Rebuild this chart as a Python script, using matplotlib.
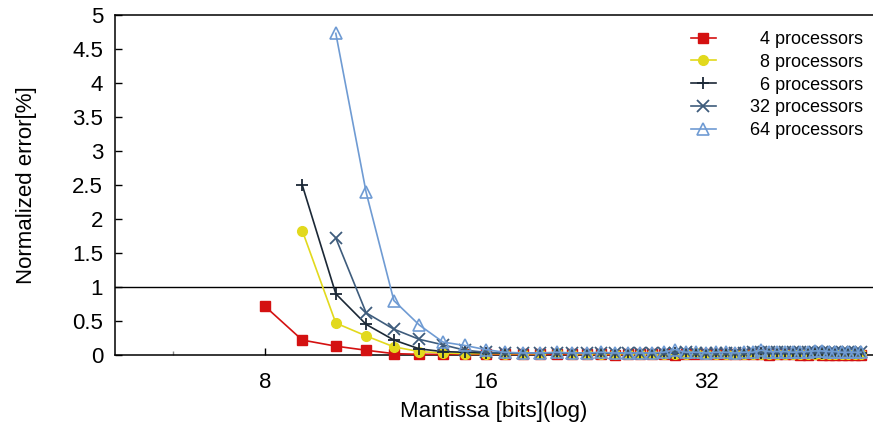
import matplotlib
matplotlib.use('Agg')
import matplotlib.pyplot as plt
import numpy as np

plt.rcParams['font.family'] = ['Liberation Sans', 'DejaVu Sans']

# mantissa width in bits
bits = np.arange(8, 53)

# normalized error [%] per mantissa width, nan where the run was not made
err_4 = [0.72, 0.22, 0.13, 0.07, 0.02, 0.01, 0.01, 0.01, 0.01,
         0.01, 0.01, 0.01, 0.01, 0.01, 0.01, 0.01, 0.00, 0.01, 0.01,
         0.01, 0.01, 0.00, 0.01, 0.01, 0.01, 0.01, 0.01, 0.01, 0.01,
         0.01, 0.01, 0.00, 0.01, 0.01, 0.01, 0.00, 0.00, 0.01, 0.00,
         0.00, 0.00, 0.00, 0.00, 0.00, 0.00]
err_8 = [np.nan, 1.83, 0.47, 0.28, 0.12, 0.05, 0.03, 0.02, 0.02,
         0.02, 0.02, 0.02, 0.03, 0.02, 0.02, 0.02, 0.02, 0.02, 0.02,
         0.02, 0.02, 0.02, 0.02, 0.03, 0.02, 0.02, 0.02, 0.02, 0.02,
         0.02, 0.02, 0.02, 0.02, 0.02, 0.02, 0.02, 0.02, 0.02, 0.02,
         0.02, 0.02, 0.02, 0.02, 0.02, 0.02]
err_16 = [np.nan, 2.50, 0.90, 0.45, 0.22, 0.09, 0.05, 0.04, 0.03,
          0.03, 0.03, 0.03, 0.03, 0.03, 0.03, 0.03, 0.03, 0.03, 0.03,
          0.03, 0.03, 0.03, 0.03, 0.03, 0.03, 0.03, 0.03, 0.03, 0.03,
          0.03, 0.03, 0.03, 0.03, 0.03, 0.03, 0.03, 0.03, 0.03, 0.03,
          0.03, 0.03, 0.03, 0.03, 0.03, 0.03]
err_32 = [np.nan, np.nan, 1.72, 0.62, 0.38, 0.23, 0.15, 0.07, 0.04,
          0.03, 0.03, 0.03, 0.03, 0.03, 0.03, 0.03, 0.03, 0.03, 0.03,
          0.03, 0.03, 0.03, 0.04, 0.03, 0.03, 0.03, 0.03, 0.03, 0.03,
          0.04, 0.04, 0.04, 0.04, 0.04, 0.04, 0.04, 0.04, 0.04, 0.04,
          0.04, 0.04, 0.04, 0.04, 0.04, 0.04]
err_64 = [np.nan, np.nan, 4.73, 2.39, 0.80, 0.44, 0.19, 0.14, 0.08,
          0.04, 0.03, 0.03, 0.04, 0.03, 0.03, 0.04, 0.03, 0.03, 0.03,
          0.03, 0.04, 0.08, 0.04, 0.04, 0.03, 0.04, 0.04, 0.03, 0.04,
          0.04, 0.07, 0.05, 0.05, 0.05, 0.04, 0.05, 0.05, 0.06, 0.06,
          0.05, 0.05, 0.04, 0.04, 0.04, 0.04]

labels = ['4 processors', '8 processors', '6 processors',
          '32 processors', '64 processors']
xtick_vals = [8, 16, 32]
ytick_vals = [0, 0.5, 1, 1.5, 2, 2.5, 3, 3.5, 4, 4.5, 5]

styles = [
    dict(color='#d41111', marker='s', ms=7.5),
    dict(color='#e2d91d', marker='o', ms=7),
    dict(color='#1b2836', marker='+', ms=9, mew=1.3),
    dict(color='#3e5c7c', marker='x', ms=8, mew=1.3),
    dict(color='#6f9bd3', marker='^', ms=8, mfc='none', mew=1.2),
]

fig = plt.figure(figsize=(8.73, 4.30), dpi=100)
ax = fig.add_axes([115 / 873, 75 / 430, 758 / 873, 340 / 430])

series = [err_4, err_8, err_16, err_32, err_64]
for vals, lab, st in zip(series, labels, styles):
    ax.plot(bits, vals, lw=1.2, label=lab, zorder=3, clip_on=False, **st)

ax.axhline(1, color='black', lw=1, zorder=2)

ax.set_xscale('log')
ax.set_xlim(5, 54)
ax.set_ylim(0, 5)
ax.set_xticks(xtick_vals)
ax.set_xticklabels([str(v) for v in xtick_vals])
ax.set_xticks([6], minor=True)
ax.xaxis.set_minor_formatter(plt.NullFormatter())
ax.set_yticks(ytick_vals)
ax.set_yticklabels(['0', '0.5', '1', '1.5', '2', '2.5', '3', '3.5', '4', '4.5', '5'])
ax.tick_params(axis='both', which='major', direction='in', length=5,
               width=1, labelsize=16)
ax.tick_params(axis='x', which='major', pad=12)
ax.tick_params(axis='y', which='major', pad=8.5)
ax.tick_params(axis='x', which='minor', direction='in', length=3,
               width=1, color='#888888')

for side in ['left', 'bottom', 'top']:
    ax.spines[side].set_linewidth(1.1)
ax.spines['right'].set_visible(False)

ax.set_xlabel('Mantissa [bits](log)', fontsize=16, labelpad=6)
ax.set_ylabel('Normalized error[%]', fontsize=16, labelpad=25)

leg = ax.legend(loc='upper right', bbox_to_anchor=(863 / 873, 1 - 31 / 430),
                bbox_transform=fig.transFigure, frameon=False, fontsize=13,
                borderpad=0, borderaxespad=0, labelspacing=0.32,
                handlelength=1.35, handletextpad=1.9)

# right-align the legend entries against the widest one
fig.canvas.draw()
renderer = fig.canvas.get_renderer()
texts = leg.get_texts()
widths = [t.get_window_extent(renderer).width for t in texts]
for t, w in zip(texts, widths):
    t.set_position((max(widths) - w, 0))

fig.savefig('out.png', dpi=100)
